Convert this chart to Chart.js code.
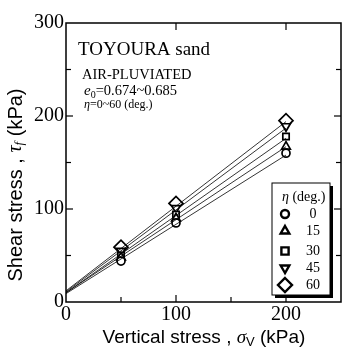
<!DOCTYPE html>
<html>
<head>
<meta charset="utf-8">
<script src="https://cdn.jsdelivr.net/npm/chart.js@4/dist/chart.umd.min.js"></script>
<style>
html,body{margin:0;padding:0;background:#fff}
#wrap{width:343px;height:348px}
</style>
</head>
<body>
<div id="wrap"><canvas id="graficoCorte" width="343" height="348"></canvas></div>
<script>
// datos
const stress=[50,100,200]
const etaLabels=['0','15','30','45','60']
const tauEta0=[44,85,160]
const tauEta15=[48,90,167]
const tauEta30=[50,94,178]
const tauEta45=[55,101,189]
const tauEta60=[59,106,195]
const fitStress=[0,200]
const fitEta0=[9,158]
const fitEta15=[10,167]
const fitEta30=[10,176]
const fitEta45=[11,187]
const fitEta60=[12,194]
const xTicks=[0,100,200]
const yTicks=[0,100,200,300]

const serif="'Liberation Serif','Times New Roman',serif"
const sans="'Liberation Sans',Arial,sans-serif"
const marcas=[
    {style:'circle',rot:0,r:4},
    {style:'triangle',rot:0,r:5},
    {style:'rect',rot:0,r:4.5},
    {style:'triangle',rot:180,r:5},
    {style:'rectRot',rot:0,r:7},
]
const series=[tauEta0,tauEta15,tauEta30,tauEta45,tauEta60]
const ajustes=[fitEta0,fitEta15,fitEta30,fitEta45,fitEta60]

const datasets=[]
ajustes.forEach((f,i)=>{
    datasets.push({
        type:'line',
        data:fitStress.map((x,j)=>({x:x,y:f[j]})),
        borderColor:'#000',
        borderWidth:0.8,
        pointRadius:0,
        fill:false,
    })
})
series.forEach((s,i)=>{
    datasets.push({
        type:'scatter',
        label:etaLabels[i],
        data:stress.map((x,j)=>({x:x,y:s[j]})),
        pointStyle:marcas[i].style,
        pointRotation:marcas[i].rot,
        pointRadius:marcas[i].r,
        pointBackgroundColor:'#fff',
        pointBorderColor:'#000',
        pointBorderWidth:1.7,
        showLine:false,
    })
})

const drawSymbol=(ctx,m,x,y,lw)=>{
    ctx.save()
    ctx.translate(x,y)
    ctx.rotate(m.rot*Math.PI/180)
    ctx.beginPath()
    const r=m.r
    if(m.style=='circle'){
        ctx.arc(0,0,r,0,Math.PI*2)
    }else if(m.style=='triangle'){
        ctx.moveTo(0,-r)
        ctx.lineTo(r*0.866,r*0.5)
        ctx.lineTo(-r*0.866,r*0.5)
        ctx.closePath()
    }else if(m.style=='rect'){
        const s=r*0.8
        ctx.rect(-s,-s,2*s,2*s)
    }else{
        ctx.moveTo(0,-r)
        ctx.lineTo(r,0)
        ctx.lineTo(0,r)
        ctx.lineTo(-r,0)
        ctx.closePath()
    }
    ctx.fillStyle='#fff'
    ctx.fill()
    ctx.lineWidth=lw
    ctx.strokeStyle='#000'
    ctx.stroke()
    ctx.restore()
}

const textoPartes=(ctx,partes,x,y,medir)=>{
    // partes: [texto, fuente, desplazamiento vertical]
    let cx=x
    partes.forEach(p=>{
        ctx.font=p[1]
        if(!medir) ctx.fillText(p[0],cx,y+(p[2]||0))
        cx+=ctx.measureText(p[0]).width
    })
    return cx-x
}

const decor={
    id:'decor',
    afterDraw(chart){
        const ctx=chart.ctx
        const a=chart.chartArea
        const xs=chart.scales.x
        const ys=chart.scales.y
        ctx.save()
        ctx.strokeStyle='#000'
        ctx.fillStyle='#000'
        ctx.lineWidth=1.5
        ctx.strokeRect(a.left,a.top,a.right-a.left,a.bottom-a.top)
        const linea=(x1,y1,x2,y2)=>{
            ctx.beginPath()
            ctx.moveTo(x1,y1)
            ctx.lineTo(x2,y2)
            ctx.stroke()
        }
        ctx.lineWidth=1.2
        ;[50,100,150,200].forEach(v=>{
            const px=xs.getPixelForValue(v)
            const L=v%100==0?7:5
            linea(px,a.bottom,px,a.bottom-L)
            if(v%100==0) linea(px,a.top,px,a.top+L)
        })
        ;[50,100,150,200,250].forEach(v=>{
            const py=ys.getPixelForValue(v)
            const L=v%100==0?7:5
            linea(a.left,py,a.left+L,py)
            linea(a.right,py,a.right-L,py)
        })

        // anotaciones
        ctx.textBaseline='alphabetic'
        ctx.textAlign='left'
        ctx.font='19px '+serif
        ctx.fillText('TOYOURA sand',78,55)
        ctx.font='14.5px '+serif
        ctx.fillText('AIR-PLUVIATED',82,79)
        textoPartes(ctx,[
            ['e','italic 15px '+serif,0],
            ['0','10px '+serif,3],
            ['=0.674~0.685','14.5px '+serif,0],
        ],84,95)
        textoPartes(ctx,[
            ['η','italic 12px '+serif,0],
            ['=0~60 (deg.)','12px '+serif,0],
        ],84,108)

        // leyenda
        const lx=272,ly=183,lw=58,lh=112
        ctx.fillRect(lx+3,ly+3,lw,lh)
        ctx.fillStyle='#fff'
        ctx.fillRect(lx,ly,lw,lh)
        ctx.lineWidth=1
        ctx.strokeRect(lx,ly,lw,lh)
        ctx.fillStyle='#000'
        ctx.textBaseline='middle'
        textoPartes(ctx,[
            ['η','italic 14px '+serif,0],
            [' (deg.)','14px '+serif,0],
        ],282,197)
        const filas=[214,231,251,268,285]
        ctx.textAlign='center'
        ctx.font='14px '+serif
        etaLabels.forEach((e,i)=>{
            drawSymbol(ctx,marcas[i],285,filas[i],2.4)
            ctx.fillText(e,313,filas[i])
        })

        // titulos de ejes
        ctx.textAlign='left'
        ctx.textBaseline='middle'
        const partesX=[
            ['Vertical stress , ','19px '+sans,0],
            ['σ','italic 19px '+serif,0],
            ['V','13px '+sans,4],
            [' (kPa)','19px '+sans,0],
        ]
        const wX=textoPartes(ctx,partesX,0,0,true)
        textoPartes(ctx,partesX,204-wX/2,338)

        const partesY=[
            ['Shear stress , ','20px '+sans,0],
            ['τ','italic 20px '+serif,0],
            ['f','italic 13px '+serif,4],
            [' (kPa)','20px '+sans,0],
        ]
        const wY=textoPartes(ctx,partesY,0,0,true)
        ctx.translate(16,185)
        ctx.rotate(-Math.PI/2)
        textoPartes(ctx,partesY,-wY/2,0)
        ctx.restore()
    }
}

const ctx=document.getElementById('graficoCorte')
new Chart(ctx,{
    data:{datasets:datasets},
    options:{
        responsive:false,
        animation:false,
        devicePixelRatio:1,
        layout:{autoPadding:false,padding:{top:23,right:2,left:0,bottom:0}},
        plugins:{legend:{display:false},tooltip:{enabled:false}},
        scales:{
            x:{
                type:'linear',
                min:0,
                max:250,
                afterBuildTicks:s=>{s.ticks=xTicks.map(v=>({value:v}))},
                afterFit:s=>{s.height=46;s.paddingLeft=0;s.paddingRight=0},
                ticks:{
                    color:'#000',
                    padding:1,
                    maxRotation:0,
                    autoSkip:false,
                    font:{family:serif,size:20},
                },
                grid:{display:false,drawTicks:false,tickLength:0},
                border:{display:false},
            },
            y:{
                type:'linear',
                min:0,
                max:300,
                afterBuildTicks:s=>{s.ticks=yTicks.map(v=>({value:v}))},
                afterFit:s=>{s.width=66;s.paddingTop=0;s.paddingBottom=0},
                ticks:{
                    color:'#000',
                    padding:2,
                    autoSkip:false,
                    font:{family:serif,size:20},
                },
                grid:{display:false,drawTicks:false,tickLength:0},
                border:{display:false},
            }
        }
    },
    plugins:[decor]
})
</script>
</body>
</html>
